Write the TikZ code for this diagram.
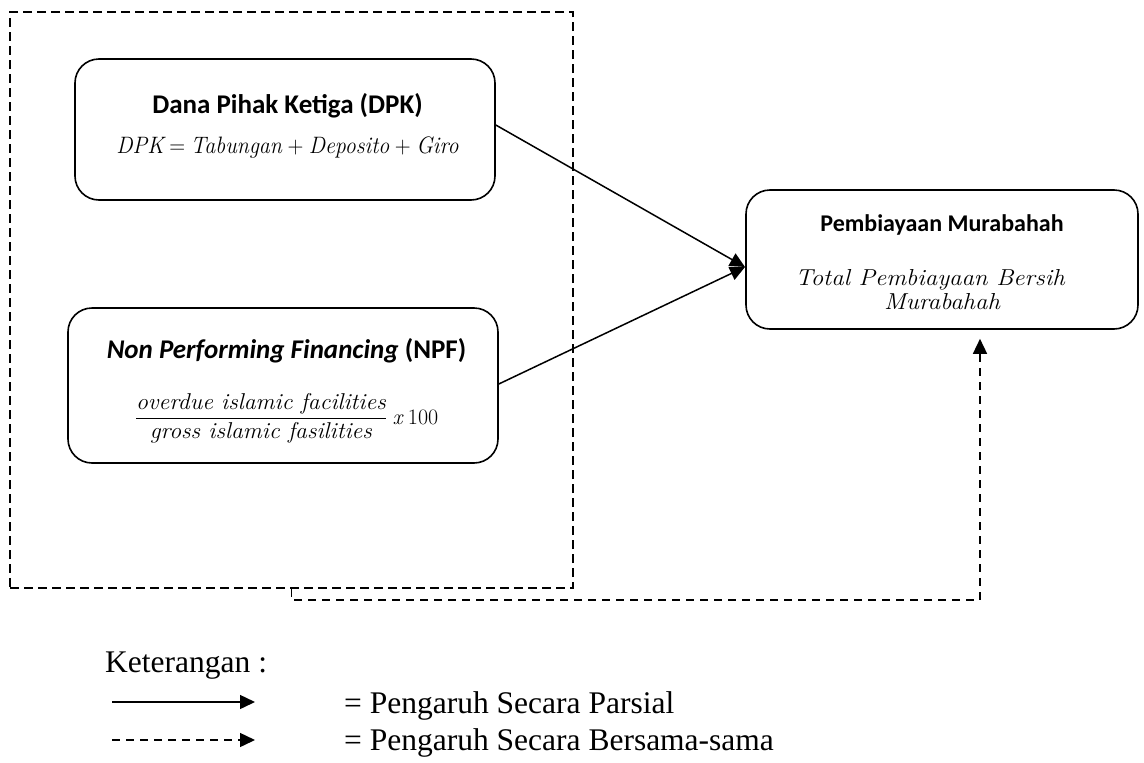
\documentclass[tikz,border=0pt]{standalone}
\usepackage{fontspec}
\setmainfont{Liberation Serif}
\newfontfamily\calibrifont{Carlito}
\newfontfamily\lmfont{Latin Modern Roman}
\newcommand{\mi}[1]{{\lmfont\itshape #1}}
\newcommand{\mr}[1]{{\lmfont #1}}
\usetikzlibrary{arrows.meta,calc}
\tikzset{
  rbox/.style={draw,line width=1.6pt,rounded corners=24pt,inner sep=0pt},
  grpbox/.style={draw,line width=1.5pt,dash pattern=on 9pt off 5pt,inner sep=0pt},
  tip/.style={-{Triangle[length=15pt,width=14pt]}},
  conn/.style={line width=1.5pt,tip},
  dconn/.style={line width=1.5pt,dash pattern=on 8pt off 6pt,tip},
  ttl/.style={anchor=base,inner sep=0pt,font=\calibrifont\bfseries\fontsize{27}{32}\selectfont},
  mth/.style={anchor=base,inner sep=0pt,font=\fontsize{22}{26}\selectfont},
  legtext/.style={anchor=base west,font=\fontsize{31.5}{36}\selectfont,inner sep=0pt}
}
\begin{document}
\begin{tikzpicture}[x=1pt,y=-1pt]
\useasboundingbox (0,0) rectangle (1144,763);
% group rectangle
\node[grpbox,minimum width=563pt,minimum height=576pt] (grp) at (291.5,300) {};
% DPK
\node[rbox,minimum width=420pt,minimum height=141pt] (dpk) at (285,129.5) {};
\node[ttl] (dpkT) at (287.5,113) {Dana Pihak Ketiga (DPK)};
\node[mth] (dpkM) at (287.5,153) {\scalebox{1}[1.08]{\mi{DPK} \mr{=} \mi{Tabungan} \mr{+} \mi{Deposito} \mr{+} \mi{Giro}}};
% NPF
\node[rbox,minimum width=430pt,minimum height=155pt] (npf) at (283,385.5) {};
\node[ttl] (npfT) at (286.5,358) {\textit{Non Performing Financing} (NPF)};
\node[mth] (npfM) at (286.5,424) {\scalebox{1.08}[1.04]{$\displaystyle\frac{\mbox{\mi{overdue islamic facilities}}}{\mbox{\mi{gross islamic fasilities}}}$}\ \mi{x}\ \mr{100}};
% Pembiayaan
\node[rbox,minimum width=392pt,minimum height=139pt] (pm) at (942,259.5) {};
\node[ttl,font=\calibrifont\bfseries\fontsize{24}{28}\selectfont] (pmT) at (942,231) {Pembiayaan Murabahah};
\node[mth] (pmM1) at (930,285) {\scalebox{1.13}[1.05]{\mi{Total Pembiayaan Bersih}}};
\node[mth] (pmM2) at (942,309) {\scalebox{1.13}[1.05]{\mi{Murabahah}}};
% connectors
\coordinate (meet) at (745,267);
\draw[conn] (dpk.east |- 0,125) -- (meet);
\draw[conn] (npf.east |- 0,384) -- (meet);
\draw[dconn] (grp.south) -- (grp.south |- 0,600) -- (980,600) -- ($(pm.south)+(38,9)$);
% legend
\node[legtext] (ket) at (105,672) {Keterangan :};
\coordinate (l1a) at (112,702);
\coordinate (l1b) at (255,702);
\coordinate (l2a) at (112,740);
\coordinate (l2b) at (255,740);
\draw[conn] (l1a) -- (l1b);
\draw[dconn] (l2a) -- (l2b);
\node[legtext] (t1) at (344,713) {= Pengaruh Secara Parsial};
\node[legtext] (t2) at (344,750) {= Pengaruh Secara Bersama-sama};
\end{tikzpicture}
\end{document}
